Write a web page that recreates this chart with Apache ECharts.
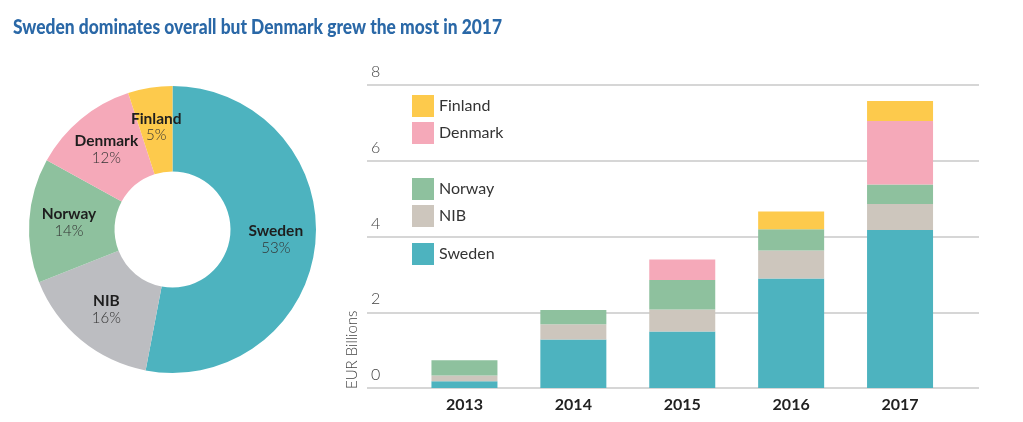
<!DOCTYPE html>
<html><head><meta charset="utf-8">
<script src="https://cdn.jsdelivr.net/npm/echarts@6/dist/echarts.min.js"></script>
<style>html,body{margin:0;padding:0;background:#fff}#c{width:1023px;height:422px}</style>
</head><body><div id="c"></div>
<script>
var years = ['2013', '2014', '2015', '2016', '2017'];
var sweden  = [0.18, 1.28, 1.49, 2.89, 4.17];
var nib     = [0.15, 0.40, 0.58, 0.74, 0.69];
var norway  = [0.40, 0.38, 0.78, 0.56, 0.51];
var denmark = [0, 0, 0.54, 0, 1.68];
var finland = [0, 0, 0, 0.47, 0.53];
var pieNames  = ['Sweden', 'NIB', 'Norway', 'Denmark', 'Finland'];
var pieShares = [53, 16, 14, 12, 5];
var yTicks = [0, 2, 4, 6, 8];
var titleText = 'Sweden dominates overall but Denmark grew the most in 2017';

var C = {Sweden:'#4db3bf', NIB:'#cdc6bd', Norway:'#8ec19e', Denmark:'#f5a9b9', Finland:'#fdca4c'};
var pieC = {Sweden:'#4db3bf', NIB:'#bcbdc1', Norway:'#8ec19e', Denmark:'#f5a9b9', Finland:'#fdca4c'};
var FONT = 'Lato, "Open Sans", sans-serif';

// fit title width to the reference (condensed face)
var TITLE_FONT = '900 21px Lato';
var cv = document.createElement('canvas').getContext('2d');
cv.font = TITLE_FONT;
var titleScale = 489 / cv.measureText(titleText).width;

function barSeries(name, data) {
  return {
    type: 'bar', name: name, stack: 'total', xAxisIndex: 1, yAxisIndex: 1,
    barWidth: 66, data: data.map(function (v) { return v === 0 ? null : v; }),
    itemStyle: {color: C[name]}, emphasis: {disabled: true}
  };
}

var chart = echarts.init(document.getElementById('c'));
chart.setOption({
  animation: false,
  textStyle: {fontFamily: FONT},
  legend: [
    {data: ['Finland', 'Denmark'], left: 412, top: 95},
    {data: ['Norway', 'NIB'], left: 412, top: 178},
    {data: ['Sweden'], left: 412, top: 243}
  ].map(function (l) {
    l.orient = 'vertical'; l.itemWidth = 22; l.itemHeight = 22; l.itemGap = 5; l.padding = 0;
    l.icon = 'rect'; l.selectedMode = false;
    l.textStyle = {fontFamily: FONT, fontSize: 16, color: '#333'};
    return l;
  }),
  grid: [
    {left: 367, right: 44, top: 85, bottom: 34},
    {left: 410, right: 68.5, top: 85, bottom: 34}
  ],
  xAxis: [
    {type: 'category', gridIndex: 0, data: years, show: false},
    {type: 'category', gridIndex: 1, data: years,
     axisLine: {show: false}, axisTick: {show: false},
     axisLabel: {margin: 9, fontFamily: FONT, fontSize: 16, fontWeight: 'bold', color: '#222'}}
  ],
  yAxis: [
    {type: 'value', gridIndex: 0, min: 0, max: 8, interval: 2,
     axisLine: {show: false}, axisTick: {show: false},
     splitLine: {lineStyle: {color: '#c9c9c9', width: 1.5}},
     axisLabel: {inside: true, margin: 4, verticalAlign: 'bottom', padding: [0, 0, 5, 0],
                 fontFamily: FONT, fontSize: 16, fontWeight: 300, color: '#444',
                 formatter: function (v) { return yTicks.indexOf(v) >= 0 ? String(v) : ''; }}},
    {type: 'value', gridIndex: 1, min: 0, max: 8, interval: 2, show: false, splitLine: {show: false}}
  ],
  graphic: [{
    type: 'text', x: 13, y: 27, scaleX: titleScale,
    style: {text: titleText, align: 'left', verticalAlign: 'middle',
            font: TITLE_FONT, fill: '#2a68a7'}
  }, {
    type: 'text', x: 352, y: 389, rotation: Math.PI / 2,
    style: {text: 'EUR Billions', align: 'left', verticalAlign: 'middle',
            fontFamily: FONT, fontSize: 15, fontWeight: 300, fill: '#444'}
  }],
  series: [
    barSeries('Sweden', sweden),
    barSeries('NIB', nib),
    barSeries('Norway', norway),
    barSeries('Denmark', denmark),
    barSeries('Finland', finland),
    {
      type: 'pie', center: [172.5, 229.5], radius: [58, 143.5],
      startAngle: 90, clockwise: true, avoidLabelOverlap: false,
      minShowLabelAngle: 0,
      emphasis: {disabled: true},
      labelLayout: {hideOverlap: false},
      data: pieNames.map(function (n, i) {
        return {name: n, value: pieShares[i], itemStyle: {color: pieC[n]}};
      }),
      label: {
        position: 'inside', formatter: '{n|{b}}\n{p|{c}%}',
        rich: {
          n: {fontFamily: FONT, fontSize: 15.5, fontWeight: 'bold', color: '#1e1e1e', lineHeight: 17},
          p: {fontFamily: FONT, fontSize: 15, fontWeight: 300, color: '#333', lineHeight: 17}
        }
      },
      labelLine: {show: false}
    }
  ]
});
</script></body></html>
